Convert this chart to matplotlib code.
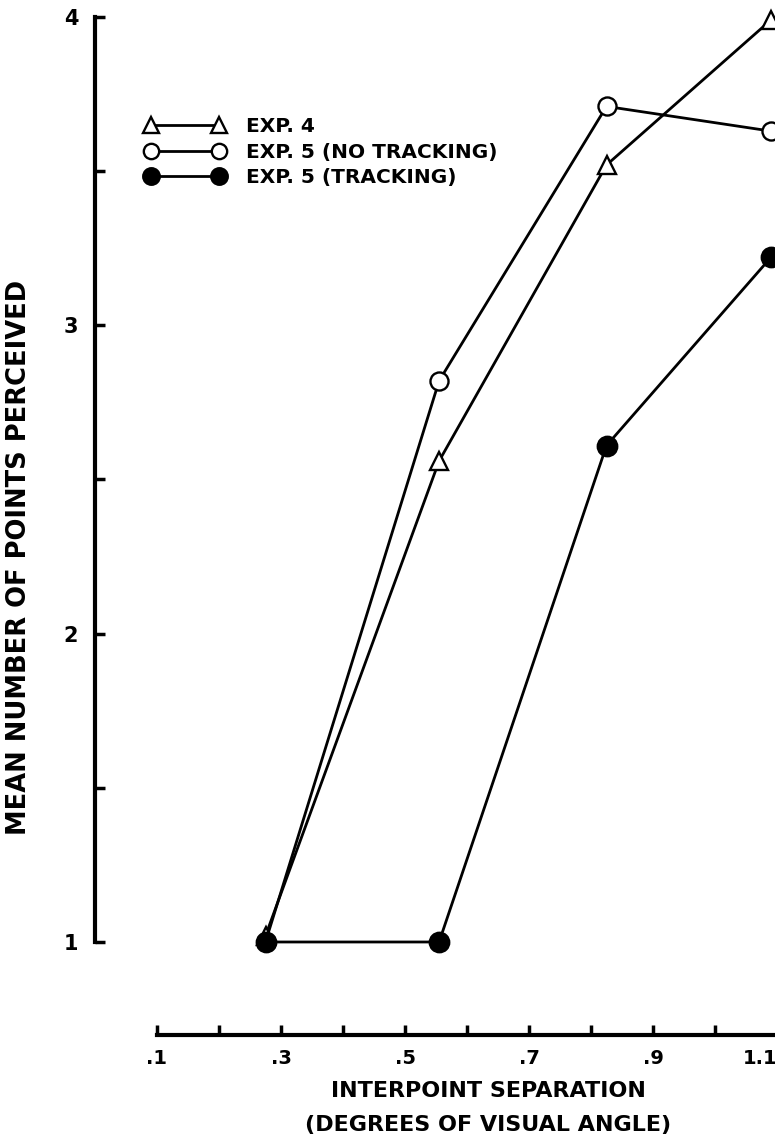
import matplotlib
matplotlib.use("Agg")
from matplotlib import pyplot as plt
from matplotlib.ticker import FixedLocator, FixedFormatter

# values
separation = [0.275, 0.555, 0.825, 1.09]
exp4 = [1.02, 2.56, 3.52, 3.99]
exp5_no_tracking = [1.0, 2.82, 3.71, 3.63]
exp5_tracking = [1.0, 1.0, 2.61, 3.22]

series_labels = ["EXP. 4", "EXP. 5 (NO TRACKING)", "EXP. 5 (TRACKING)"]
x_major = [0.1, 0.3, 0.5, 0.7, 0.9, 1.1]
x_major_labels = [".1", ".3", ".5", ".7", ".9", "1.1"]
x_minor = [0.2, 0.4, 0.6, 0.8, 1.0]
y_major = [1, 2, 3, 4]
y_minor = [1.5, 2.5, 3.5]

W, H = 775, 1138
FONT = "DejaVu Sans"

def main():
    plt.rcParams['font.family'] = [FONT]
    plt.rcParams['font.weight'] = 'bold'
    fig = plt.figure(figsize=(W / 100, H / 100), dpi=100)

    # axes box in pixels: spine x=95, bottom line y=1035, top y=12
    left, right, top, bottom = 95, 95 + 682, 12, 1035
    ax = fig.add_axes([left / W, 1 - bottom / H, (right - left) / W, (bottom - top) / H])
    ax.set_xlim(0, 1.1)
    ax.set_ylim(1 - (bottom - 942) / 308.3, 4 + (17 - top) / 308.3)

    lw, ms, mew = 2.0, 13, 1.7
    ax.plot(separation, exp4, color='black', lw=lw, marker='^', ms=ms,
            mfc='white', mec='black', mew=mew, label=series_labels[0], clip_on=False, zorder=3)
    ax.plot(separation, exp5_no_tracking, color='black', lw=lw, marker='o', ms=ms,
            mfc='white', mec='black', mew=mew, label=series_labels[1], clip_on=False, zorder=3)
    ax.plot(separation, exp5_tracking, color='black', lw=lw, marker='o', ms=ms + 1,
            mfc='black', mec='black', mew=mew, label=series_labels[2], clip_on=False, zorder=4)

    for s in ['top', 'right']:
        ax.spines[s].set_visible(False)
    ax.spines['left'].set_bounds(1, 4)
    ax.spines['bottom'].set_bounds(0.1, 1.1)
    ax.spines['left'].set_linewidth(3.0)
    ax.spines['bottom'].set_linewidth(3.0)

    ax.xaxis.set_major_locator(FixedLocator(x_major))
    ax.xaxis.set_major_formatter(FixedFormatter(x_major_labels))
    ax.xaxis.set_minor_locator(FixedLocator(x_minor))
    ax.yaxis.set_major_locator(FixedLocator(y_major))
    ax.yaxis.set_minor_locator(FixedLocator(y_minor))
    ax.tick_params(which='both', direction='in', length=7, width=2.5, color='black')
    ax.tick_params(axis='x', labelsize=14, pad=10)
    ax.tick_params(axis='y', labelsize=15, pad=12)
    ax.get_xticklabels()[-1].set_horizontalalignment('right')

    ax.set_ylabel("MEAN NUMBER OF POINTS PERCEIVED", fontsize=18.5, fontweight='bold')
    ax.yaxis.set_label_coords((32 - left) / (right - left), (bottom - 557) / (bottom - top))
    ax.set_xlabel("INTERPOINT SEPARATION\n(DEGREES OF VISUAL ANGLE)", fontsize=16,
                  fontweight='bold', linespacing=1.85)
    ax.xaxis.set_label_coords((488 - left) / (right - left), -(1081 - bottom) / (bottom - top))

    ax.legend(loc='upper left', bbox_to_anchor=(145 / W, 1 - 117 / H),
              bbox_transform=fig.transFigure, frameon=False, numpoints=2,
              handlelength=3.95, handletextpad=1.05, labelspacing=0.33,
              borderpad=0, borderaxespad=0, markerscale=0.85,
              prop={'family': FONT, 'weight': 'bold', 'size': 14.5})

    fig.savefig("out.png", dpi=100)

if __name__ == '__main__':
    main()
